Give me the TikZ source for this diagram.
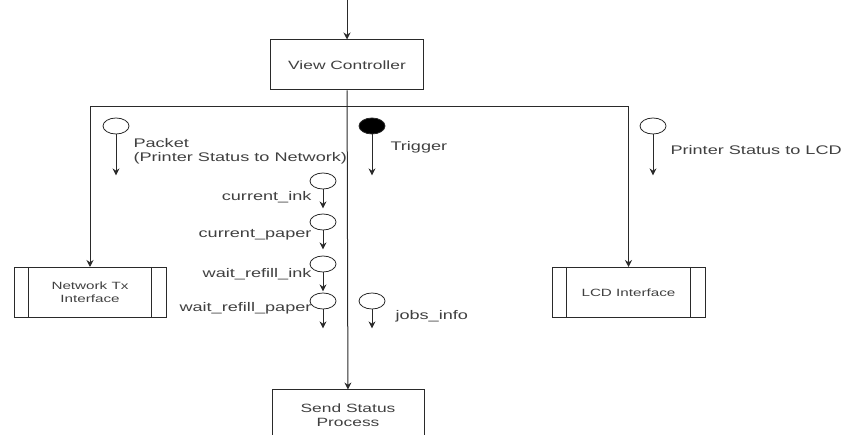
\documentclass[tikz,border=0pt]{standalone}
\usepackage{fontspec}
\setmainfont{Liberation Sans}[FakeStretch=1.45]
\usetikzlibrary{positioning, arrows.meta, shapes.geometric}
\definecolor{linea}{HTML}{2A2A2A}
\definecolor{texto}{HTML}{404040}
\tikzset{
	x=1pt, y=-1pt, % Un punto por pixel, y hacia abajo
	>={Stealth[length=7pt, width=7pt]}, % Puntas de flecha rellenas
	every picture/.style={color=linea, line width=1pt}, % Trazos
	bloque/.style={draw, minimum width=153pt, minimum height=50pt, align=center,
		text=texto, font=\fontsize{12}{14}\selectfont}, % Procesos
	flujo/.style={draw, ellipse, minimum width=26pt, minimum height=16pt, inner sep=0pt, line width=0.8pt}, % Flujos de datos
	etiqueta/.style={text=texto, align=left, inner sep=0pt, font=\fontsize{12.5}{14}\selectfont} % Textos de los flujos
}

\begin{document}
\begin{tikzpicture}
	\useasboundingbox (0,0) rectangle (844,435);
	% Procesos
	\node[bloque] (vc) at (347,65) {View Controller};
	\node[bloque, minimum width=152pt, font=\fontsize{10.5}{13}\selectfont] (ntx) at (90,292.5) {Network Tx\\Interface};
	\node[bloque, font=\fontsize{10.5}{13}\selectfont] (lcd) at (628.5,292.5) {LCD Interface};
	\node[bloque, minimum width=152pt] (ss) at (348,415) {Send Status\\Process};
	\foreach \n in {ntx, lcd}
		\draw ([xshift=15pt]\n.north west) -- ([xshift=15pt]\n.south west)
			([xshift=-15pt]\n.north east) -- ([xshift=-15pt]\n.south east);
	% Conexiones
	\coordinate (entrada) at (347,0);
	\coordinate (busL) at (90,107);
	\coordinate (busR) at (628.5,107);
	\draw[->] (entrada) -- (vc);
	\draw[->] (vc) -- (ss);
	\draw (busL) -- (busR);
	\draw[->] (busL) -- (ntx);
	\draw[->] (busR) -- (lcd);
	% Flujos grandes
	\node[flujo] (pk) at (116,126) {};
	\node[flujo, fill=black] (tr) at (372,126) {};
	\node[flujo] (ps) at (653,126) {};
	\foreach \f in {pk, tr, ps} {
		\coordinate (\f fin) at ([yshift=-41pt]\f.south);
		\draw[->] (\f) -- (\f fin);
	}
	\node[etiqueta, anchor=west] at (133,151) {Packet\\(Printer Status to Network)};
	\node[etiqueta, anchor=west] at (390,147) {Trigger};
	\node[etiqueta, anchor=west] at (670,150) {Printer Status to LCD};
	% Flujos pequenos
	\foreach \nom/\cy/\ly [count=\i] in {current\_ink/181/197, current\_paper/222/235,
			wait\_refill\_ink/264/274, wait\_refill\_paper/301/308} {
		\node[flujo] (st\i) at (323,\cy) {};
		\coordinate (st\i fin) at ([yshift=-19pt]st\i.south);
		\draw[->] (st\i) -- (st\i fin);
		\node[etiqueta, anchor=east] at (312,\ly) {\nom};
	}
	\node[flujo] (ji) at (372,301) {};
	\coordinate (jifin) at ([yshift=-19pt]ji.south);
	\draw[->] (ji) -- (jifin);
	\node[etiqueta, anchor=west] at (395,316) {jobs\_info};
\end{tikzpicture}
\end{document}
